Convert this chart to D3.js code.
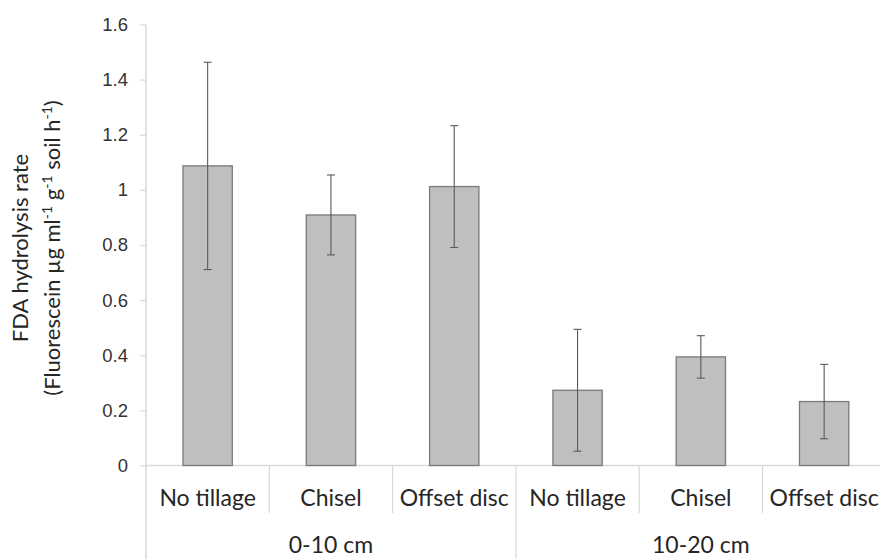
<!DOCTYPE html>
<html>
<head>
<meta charset="utf-8">
<script src="https://cdn.jsdelivr.net/npm/d3@7"></script>
<style>
  html, body { margin: 0; padding: 0; background: #fff; }
  svg { display: block; }
</style>
</head>
<body>
<svg id="chart" width="880" height="559"></svg>
<script>
// Soil depth groups and tillage treatments
const depthGroups = ["0-10 cm", "10-20 cm"];
const treatments = ["No tillage", "Chisel", "Offset disc"];

// Mean FDA hydrolysis rate and error (± one bar) per depth × treatment
const means  = [1.087, 0.909, 1.012, 0.273, 0.394, 0.232];
const errors = [0.376, 0.145, 0.221, 0.221, 0.077, 0.135];

// Y-axis ticks
const yTicks = [0, 0.2, 0.4, 0.6, 0.8, 1.0, 1.2, 1.4, 1.6];

const rows = [];
depthGroups.forEach((g, gi) => treatments.forEach((t, ti) => {
  const i = gi * treatments.length + ti;
  rows.push({ key: g + "|" + t, group: g, treatment: t, mean: means[i], err: errors[i] });
}));

const svg = d3.select("#chart");
const left = 146, bottomY = 465.5, topY = 24.5;
const bandW = 123.3;
const right = left + bandW * rows.length;

const x = d3.scaleBand().domain(rows.map(d => d.key)).range([left, right]).padding(0);
const y = d3.scaleLinear().domain([0, 1.6]).range([bottomY, topY]);

const axisColor = "#d9d9d9";
const labelFont = "Lato, 'Open Sans', sans-serif";
const textColor = "#262626";

// Y axis
const yAxis = svg.append("g")
  .attr("transform", `translate(${left},0)`)
  .call(d3.axisLeft(y).tickValues(yTicks).tickSize(6).tickPadding(12)
    .tickFormat(d => String(+d.toFixed(1))));
yAxis.select(".domain").remove();
yAxis.selectAll(".tick line").attr("stroke", axisColor).attr("stroke-width", 1.2);
yAxis.selectAll(".tick text")
  .attr("fill", "#333")
  .style("font-family", "'Liberation Sans', Arial, sans-serif")
  .style("font-size", "18.5px");
svg.append("line")
  .attr("x1", left).attr("x2", left)
  .attr("y1", y(1.6)).attr("y2", 559)
  .attr("stroke", axisColor).attr("stroke-width", 1.5);

// X axis baseline
svg.append("line")
  .attr("x1", left).attr("x2", 880)
  .attr("y1", bottomY).attr("y2", bottomY)
  .attr("stroke", axisColor).attr("stroke-width", 1.5);

// Category dividers (short between treatments, long between depth groups)
rows.forEach((d, i) => {
  if (i === 0) return;
  const xx = x(d.key);
  const isGroupEdge = i % treatments.length === 0;
  svg.append("line")
    .attr("x1", xx).attr("x2", xx)
    .attr("y1", bottomY).attr("y2", isGroupEdge ? 559 : 513)
    .attr("stroke", axisColor).attr("stroke-width", 1.2);
});
svg.append("line")
  .attr("x1", right).attr("x2", right)
  .attr("y1", bottomY).attr("y2", 559)
  .attr("stroke", axisColor).attr("stroke-width", 1.2);

// Bars
const barW = x.bandwidth() * 0.4;
svg.append("g").selectAll("rect").data(rows).join("rect")
  .attr("x", d => x(d.key) + (x.bandwidth() - barW) / 2)
  .attr("y", d => y(d.mean))
  .attr("width", barW)
  .attr("height", d => y(0) - y(d.mean))
  .attr("fill", "#bfbfbf")
  .attr("stroke", "#7a7a7a")
  .attr("stroke-width", 1.3);

// Error bars
const eb = svg.append("g").attr("stroke", "#5a5a5a").attr("stroke-width", 1.1);
rows.forEach(d => {
  const cx = x(d.key) + x.bandwidth() / 2;
  const lo = y(d.mean - d.err), hi = y(d.mean + d.err);
  eb.append("line").attr("x1", cx).attr("x2", cx).attr("y1", lo).attr("y2", hi);
  eb.append("line").attr("x1", cx - 4).attr("x2", cx + 4).attr("y1", lo).attr("y2", lo);
  eb.append("line").attr("x1", cx - 4).attr("x2", cx + 4).attr("y1", hi).attr("y2", hi);
});

// Treatment labels
svg.append("g").selectAll("text").data(rows).join("text")
  .attr("x", d => x(d.key) + x.bandwidth() / 2)
  .attr("y", 506)
  .attr("text-anchor", "middle")
  .attr("fill", textColor)
  .style("font-family", labelFont)
  .style("font-size", "23px")
  .text(d => d.treatment);

// Depth group labels
depthGroups.forEach((g, gi) => {
  const first = rows[gi * treatments.length];
  const last = rows[gi * treatments.length + treatments.length - 1];
  const cx = (x(first.key) + x(last.key) + x.bandwidth()) / 2;
  svg.append("text")
    .attr("x", cx).attr("y", 553)
    .attr("text-anchor", "middle")
    .attr("fill", textColor)
    .style("font-family", labelFont)
    .style("font-size", "23px")
    .text(g);
});

// Y-axis title (two lines, rotated)
const title = svg.append("g")
  .attr("transform", "translate(0,248) rotate(-90)")
  .attr("fill", textColor)
  .style("font-family", labelFont)
  .style("font-size", "22px");
title.append("text")
  .attr("x", 0).attr("y", 28)
  .attr("text-anchor", "middle")
  .text("FDA hydrolysis rate");
const l2 = title.append("text")
  .attr("x", 0).attr("y", 60)
  .attr("text-anchor", "middle");
const parts = [
  ["(Fluorescein µg ml", false], ["-1", true], [" g", false], ["-1", true],
  [" soil h", false], ["-1", true], [")", false]
];
parts.forEach(([t, sup]) => {
  const ts = l2.append("tspan").text(t);
  if (sup) ts.attr("baseline-shift", "super").style("font-size", "14px");
});
</script>
</body>
</html>
